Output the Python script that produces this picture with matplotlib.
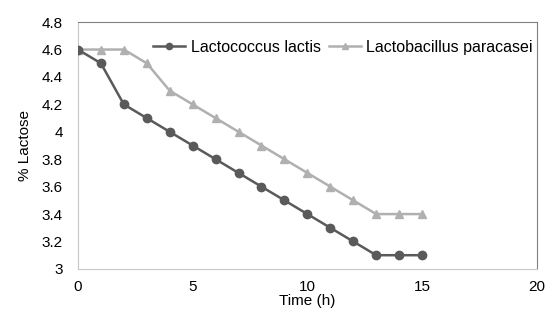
import matplotlib
matplotlib.use('Agg')
import matplotlib.pyplot as plt

plt.rcParams['font.family'] = ['Liberation Sans', 'DejaVu Sans']

tiempo = list(range(16))
lactococcus = [4.6, 4.5, 4.2, 4.1, 4.0, 3.9, 3.8, 3.7, 3.6, 3.5, 3.4, 3.3, 3.2, 3.1, 3.1, 3.1]
lactobacillus = [4.6, 4.6, 4.6, 4.5, 4.3, 4.2, 4.1, 4.0, 3.9, 3.8, 3.7, 3.6, 3.5, 3.4, 3.4, 3.4]
y_ticks = [3, 3.2, 3.4, 3.6, 3.8, 4, 4.2, 4.4, 4.6, 4.8]
y_labels = ['3', '3.2', '3.4', '3.6', '3.8', '4', '4.2', '4.4', '4.6', '4.8']
x_ticks = [0, 5, 10, 15, 20]

fig = plt.figure(figsize=(5.45, 3.16), dpi=100)
ax = fig.add_axes([0.143, 0.149, 0.842, 0.781])

ax.plot(tiempo, lactococcus, color='#5a5a5a', marker='o', markersize=6,
        linewidth=1.8, label='Lactococcus lactis', zorder=3)
ax.plot(tiempo, lactobacillus, color='#b0b0b0', marker='^', markersize=6,
        linewidth=1.8, label='Lactobacillus paracasei', zorder=2)

ax.set_xlim(0, 20)
ax.set_ylim(3, 4.8)
ax.set_xticks(x_ticks)
ax.set_yticks(y_ticks)
ax.set_yticklabels(y_labels)
ax.tick_params(length=0, labelsize=11)
ax.tick_params(axis='x', pad=8)
ax.tick_params(axis='y', pad=11)
ax.set_xlabel('Time (h)', fontsize=11, labelpad=0)
ax.set_ylabel('% Lactose', fontsize=11, labelpad=7)

for lado in ['left', 'bottom']:
    ax.spines[lado].set_color('#c8c8c8')
for lado in ['top', 'right']:
    ax.spines[lado].set_color('#808080')

ax.legend(loc='upper left', bbox_to_anchor=(0.15, 0.955), ncol=2, frameon=False,
          fontsize=11.5, handlelength=2.0, columnspacing=0.5, handletextpad=0.35,
          markerscale=0.75, borderaxespad=0)

fig.savefig('out.png', dpi=100)
